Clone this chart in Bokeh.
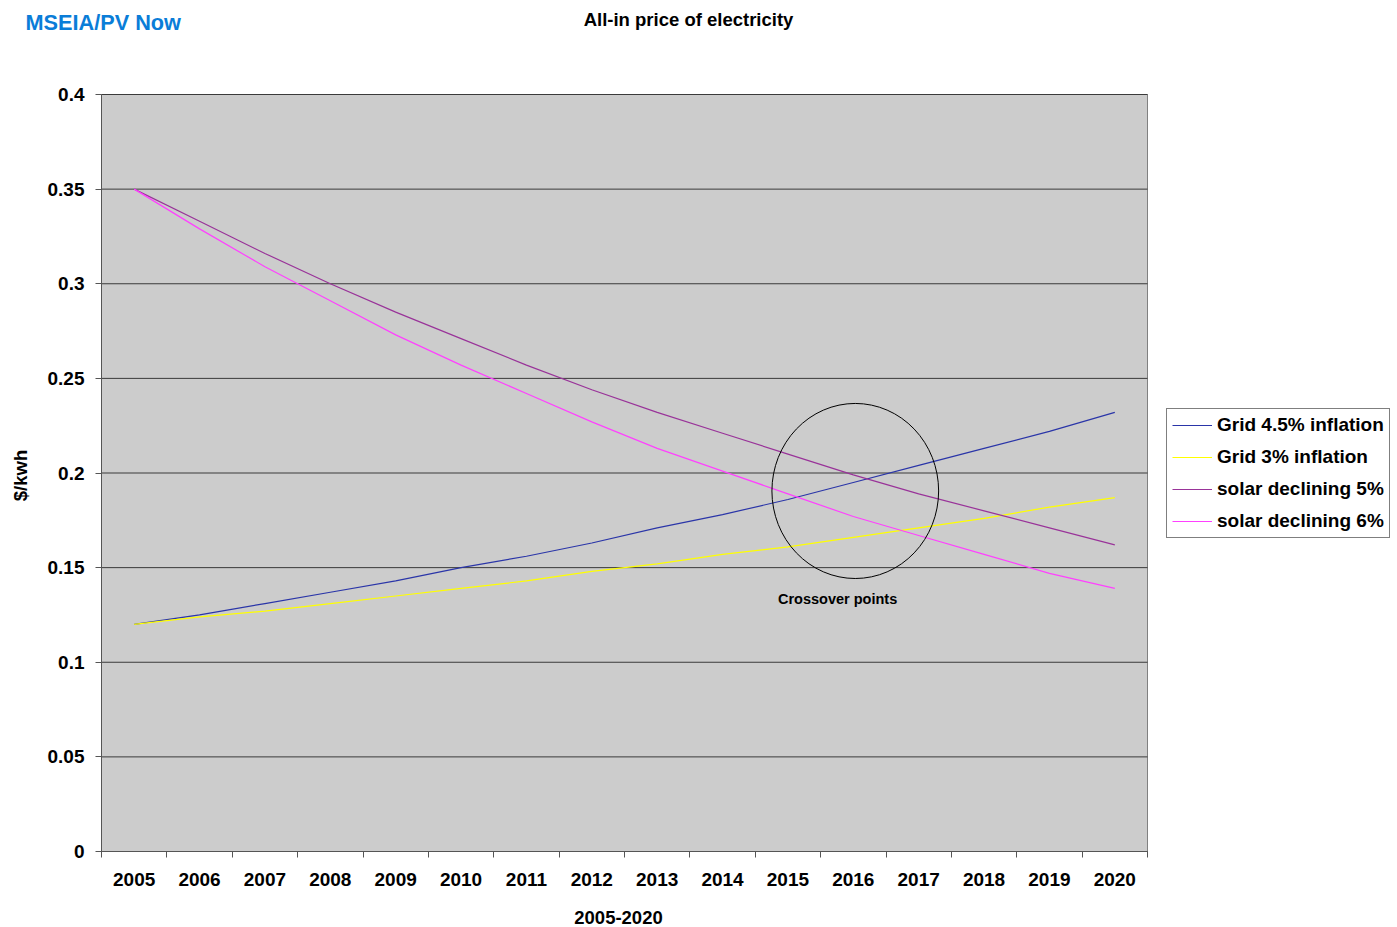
import math
from bokeh.plotting import figure
from bokeh.models import Range1d, FixedTicker, CustomJSTickFormatter, Legend, LegendItem, Label
from bokeh.embed import file_html
from bokeh.resources import INLINE

# ---- data ----
years = ["2005", "2006", "2007", "2008", "2009", "2010", "2011", "2012",
         "2013", "2014", "2015", "2016", "2017", "2018", "2019", "2020"]
grid_45 = [0.120, 0.125, 0.131, 0.137, 0.143, 0.150, 0.156, 0.163,
           0.171, 0.178, 0.186, 0.195, 0.204, 0.213, 0.222, 0.232]
grid_3 = [0.120, 0.124, 0.127, 0.131, 0.135, 0.139, 0.143, 0.148,
          0.152, 0.157, 0.161, 0.166, 0.171, 0.176, 0.182, 0.187]
solar_5 = [0.350, 0.333, 0.316, 0.300, 0.285, 0.271, 0.257, 0.244,
           0.232, 0.221, 0.210, 0.199, 0.189, 0.180, 0.171, 0.162]
solar_6 = [0.350, 0.329, 0.309, 0.291, 0.273, 0.257, 0.242, 0.227,
           0.213, 0.201, 0.189, 0.177, 0.167, 0.157, 0.147, 0.139]
series_names = ["Grid 4.5% inflation", "Grid 3% inflation",
                "solar declining 5%", "solar declining 6%"]
series_colors = ["#2a35a8", "#ffff00", "#993399", "#ff40ff"]
y_ticks = [0, 0.05, 0.1, 0.15, 0.2, 0.25, 0.3, 0.35, 0.4]
chart_title = "All-in price of electricity"
brand = "MSEIA/PV Now"
x_title = "2005-2020"
y_title = "$/kwh"
note = "Crossover points"

FONT = "Liberation Sans"

# ---- layout constants (pixels) ----
W, H = 1397, 927
PL, PR, PT, PB = 101, 1147, 94, 851        # plot-area box
n = len(years)
y_max = y_ticks[-1]
xpx = (PR - PL) / n
ypx = (PB - PT) / y_max

p = figure(width=W, height=H, output_backend="svg", toolbar_location=None, title=None,
           x_range=Range1d(-PL / xpx, n + (W - PR) / xpx),
           y_range=Range1d(-(H - PB) / ypx, y_max + PT / ypx),
           min_border=0)
p.background_fill_color = "white"
p.border_fill_color = "white"
p.outline_line_color = None
p.grid.visible = False

x = [i + 0.5 for i in range(n)]

# plot area background + horizontal grid lines
p.quad(left=[0], right=[n], bottom=[0], top=[y_max], fill_color="#cccccc",
       line_color="#808080", line_width=1)
p.segment(x0=[0] * len(y_ticks), y0=y_ticks, x1=[n] * len(y_ticks), y1=y_ticks,
          line_color="#3a3a3a", line_width=1)

# axes fixed at the plot-area edges
p.xaxis.fixed_location = 0
p.xaxis.bounds = (0, n)
p.xaxis.ticker = FixedTicker(ticks=x, minor_ticks=list(range(n + 1)))
p.xaxis.formatter = CustomJSTickFormatter(args=dict(labels=years),
                                          code="return labels[Math.round(tick - 0.5)];")
p.xaxis.major_tick_line_color = None
p.xaxis.minor_tick_line_color = "#555555"
p.xaxis.minor_tick_out = 6
p.xaxis.minor_tick_in = 0
p.xaxis.major_label_standoff = 15

p.yaxis.fixed_location = 0
p.yaxis.bounds = (0, y_max)
p.yaxis.ticker = FixedTicker(ticks=y_ticks)
p.yaxis.formatter = CustomJSTickFormatter(
    code="var s = tick.toFixed(2); s = s.replace(/0+$/, ''); return s.replace(/\\.$/, '');")
p.yaxis.major_tick_out = 6
p.yaxis.major_tick_in = 0
p.yaxis.minor_tick_line_color = None
p.yaxis.major_tick_line_color = "#555555"
p.yaxis.major_label_standoff = 11

for ax in (p.xaxis, p.yaxis):
    ax.axis_line_color = "#555555"
    ax.axis_line_width = 1
    ax.major_label_text_font = FONT
    ax.major_label_text_font_style = "bold"
    ax.major_label_text_font_size = "19px"
    ax.major_label_text_color = "black"

# series
items = []
for name, vals, color in zip(series_names, [grid_45, grid_3, solar_5, solar_6], series_colors):
    r = p.line(x, vals, line_color=color, line_width=1.2)
    items.append(LegendItem(label=name, renderers=[r]))

legend = Legend(items=items, location=(1166, H - 538))
legend.label_text_font = FONT
legend.label_text_font_style = "bold"
legend.label_text_font_size = "19px"
legend.label_text_color = "black"
legend.border_line_color = "black"
legend.border_line_width = 1
legend.background_fill_color = "white"
legend.background_fill_alpha = 1
legend.padding = 5
legend.spacing = 10
legend.glyph_width = 40
legend.glyph_height = 22
legend.label_height = 22
legend.label_standoff = 5
legend.margin = 0
p.add_layout(legend)

# crossover annotation
p.ellipse(x=[11.53], y=[0.1905], width=[2.55], height=[0.0925],
          fill_color=None, line_color="black", line_width=1)
p.add_layout(Label(x=11.26, y=0.1332, text=note, text_align="center",
                   text_baseline="middle", text_font=FONT, text_font_style="bold",
                   text_font_size="14.5px", text_color="black"))

def screen_label(text, sx, sy, size, color="black", align="center", angle=0.0):
    return Label(x=sx, y=H - sy, x_units="screen", y_units="screen", text=text,
                 text_align=align, text_baseline="middle", text_font=FONT,
                 text_font_style="bold", text_font_size=size, text_color=color,
                 angle=angle)

p.add_layout(screen_label(brand, 25, 22, "21.7px", color="#0a7dd8", align="left"))
p.add_layout(screen_label(chart_title, 688, 19, "18.5px"))
p.add_layout(screen_label(x_title, 618, 917, "18.5px"))
p.add_layout(screen_label(y_title, 20, 475, "18.5px", angle=math.pi / 2))

open("out.html", "w").write(file_html(p, INLINE))
